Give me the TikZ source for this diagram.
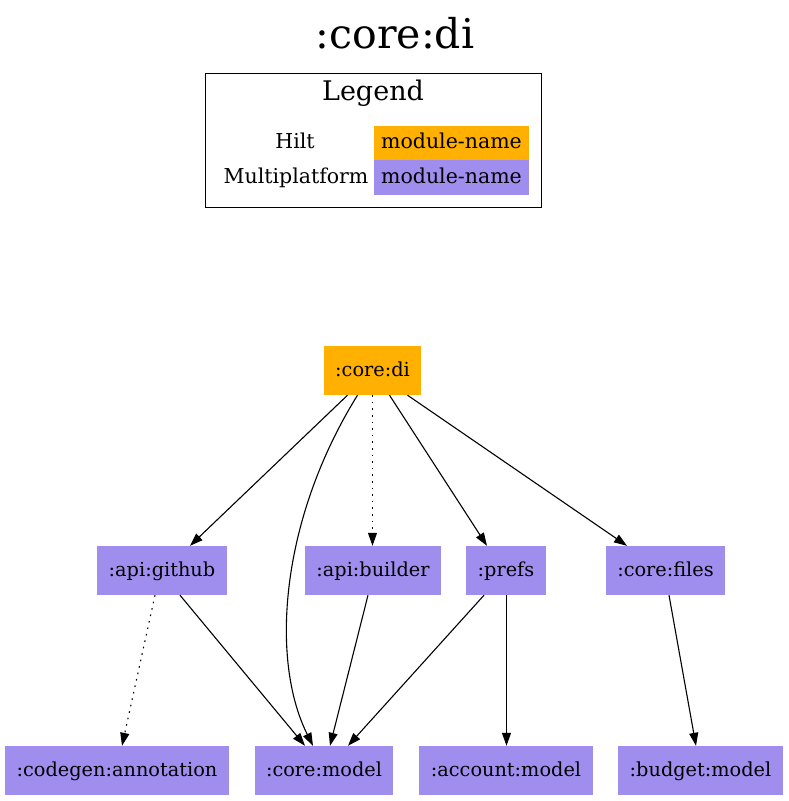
\documentclass[tikz,border=0pt]{standalone}
\usepackage{fontspec}
\setmainfont{DejaVu Serif}
\usetikzlibrary{arrows.meta}

\definecolor{hiltfill}{RGB}{255,176,0}
\definecolor{mppfill}{RGB}{160,142,238}

\tikzset{
	module/.style={inner sep=0pt, minimum height=49pt, text height=15pt, text depth=4pt, font=\fontsize{19.3}{23}\selectfont},
	hilt/.style={module, fill=hiltfill},
	mpp/.style={module, fill=mppfill},
	dep/.style={draw=black, line width=1.1pt, -{Triangle[length=13pt,width=9pt]}},
	dotdep/.style={dep, dash pattern=on 1.6pt off 5pt},
	legendtext/.style={text height=15pt, text depth=4pt, font=\fontsize{20.5}{24}\selectfont},
}

\begin{document}
\begin{tikzpicture}[x=1pt, y=-1pt]
	\useasboundingbox (0,0) rectangle (789,801);

	% title and legend
	\node[font=\fontsize{41}{46}\selectfont] (title) at (395,33) {:core:di};
	\draw[draw=black, line width=1pt] (205,73) rectangle (541,207);
	\node[font=\fontsize{27}{31}\selectfont] (legend) at (373,93) {Legend};
	\node[legendtext] (hiltlbl) at (295,143) {Hilt};
	\node[legendtext] (mpplbl) at (296,177.5) {Multiplatform};
	\node[hilt, legendtext, minimum width=155pt, minimum height=34pt] (hiltcell) at (451.5,143) {module-name};
	\node[mpp, legendtext, minimum width=155pt, minimum height=35pt] (mppcell) at (451.5,177.5) {module-name};

	% modules
	\node[hilt, minimum width=97pt] (di) at (372.5,370.5) {:core:di};

	\node[mpp, minimum width=130pt] (github) at (162,570.5) {:api:github};
	\node[mpp, minimum width=136pt] (builder) at (373,570.5) {:api:builder};
	\node[mpp, minimum width=80pt] (prefs) at (506,570.5) {:prefs};
	\node[mpp, minimum width=119pt] (files) at (665.5,570.5) {:core:files};

	\node[mpp, minimum width=224pt] (codegen) at (117,770.5) {:codegen:annotation};
	\node[mpp, minimum width=138pt] (cmodel) at (324,770.5) {:core:model};
	\node[mpp, minimum width=174pt] (amodel) at (506,770.5) {:account:model};
	\node[mpp, minimum width=165pt] (bmodel) at (700.5,770.5) {:budget:model};

	% dependencies
	\draw[dep] ([xshift=-25pt]di.south) -- ([xshift=28pt]github.north);
	\draw[dep] ([xshift=-15pt]di.south) .. controls (280,520) and (270,660) .. ([xshift=-11pt]cmodel.north);
	\draw[dotdep] (di.south) -- (di.south |- builder.north);
	\draw[dep] ([xshift=17pt]di.south) -- ([xshift=-19pt]prefs.north);
	\draw[dep] ([xshift=35pt]di.south) -- ([xshift=-38.5pt]files.north);

	\draw[dotdep] ([xshift=-7pt]github.south) -- ([xshift=5pt]codegen.north);
	\draw[dep] ([xshift=18pt]github.south) -- ([xshift=-19pt]cmodel.north);
	\draw[dep] ([xshift=-5pt]builder.south) -- ([xshift=6pt]cmodel.north);
	\draw[dep] ([xshift=-22pt]prefs.south) -- ([xshift=24pt]cmodel.north);
	\draw[dep] ([xshift=0.5pt]prefs.south) -- ([xshift=0.5pt]amodel.north);
	\draw[dep] ([xshift=3.5pt]files.south) -- ([xshift=-4.5pt]bmodel.north);
\end{tikzpicture}
\end{document}
